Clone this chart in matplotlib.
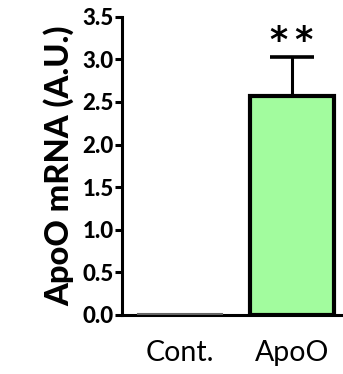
import matplotlib
matplotlib.use("Agg")
import matplotlib.pyplot as plt

categories = ["Cont.", "ApoO"]
values = [0.01, 2.57]
errors_upper = [0.0, 0.46]
yticks = [0.0, 0.5, 1.0, 1.5, 2.0, 2.5, 3.0, 3.5]
ylabel = "ApoO mRNA (A.U.)"
signif = "*\u2009*"

fig = plt.figure(figsize=(3.43, 3.74), dpi=100)
ax = fig.add_axes([0.356, 0.158, 0.644, 0.797])

x = [0, 1]
ax.bar(x[1], values[1], width=0.75, color="#a2fc9e", edgecolor="black", linewidth=3.0, zorder=3)
ax.bar(x[0], values[0], width=0.75, color="white", edgecolor="#666666", linewidth=1.5, zorder=3)
ax.errorbar([x[1]], [values[1]], yerr=[[0], [errors_upper[1]]], fmt="none", ecolor="black",
            elinewidth=2.2, capsize=15.5, capthick=2.6, zorder=2)
ax.text(x[1], 3.22, signif, ha="center", va="center", fontsize=25, fontweight="bold",
        family="DejaVu Sans")

ax.set_xlim(-0.52, 1.46)
ax.set_ylim(0, 3.5)
ax.set_yticks(yticks)
ax.set_yticklabels([f"{v:.1f}" for v in yticks], fontsize=16, fontweight="black", family="Lato")
ax.set_xticks(x)
ax.set_xticklabels(categories, fontsize=20.5, family="Lato")
ax.tick_params(axis="x", length=0, pad=18)
ax.tick_params(axis="y", length=5, width=2.2, pad=1)
ax.set_ylabel(ylabel, fontsize=23.5, fontweight="black", family="Lato", labelpad=6)
for s in ["top", "right"]:
    ax.spines[s].set_visible(False)
for s in ["left", "bottom"]:
    ax.spines[s].set_linewidth(2.2)

fig.savefig("out.png", dpi=100)
